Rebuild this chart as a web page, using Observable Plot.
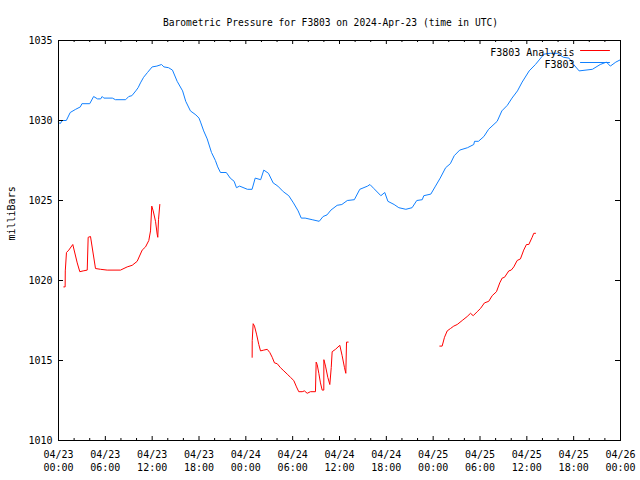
<!DOCTYPE html>
<html><head><meta charset="utf-8">
<script src="https://cdn.jsdelivr.net/npm/d3@7"></script>
<script src="https://cdn.jsdelivr.net/npm/@observablehq/plot@0.6"></script>
<style>body{margin:0;background:#fff}</style>
</head><body><div id="chart"></div>
<script>
const startUTC = Date.UTC(2024, 3, 23);
const titleText = "Barometric Pressure for F3803 on 2024-Apr-23 (time in UTC)";
const yLabel = "milliBars";
const seriesNames = ["F3803 Analysis", "F3803"];
const seriesColors = ["#ff0000", "#1080ff"];
const yTicks = [1010, 1015, 1020, 1025, 1030, 1035];
const xMajorHours = [0, 6, 12, 18, 24, 30, 36, 42, 48, 54, 60, 66, 72];
const xMinorHours = [2, 4, 8, 10, 14, 16, 20, 22, 26, 28, 32, 34, 38, 40, 44, 46, 50, 52, 56, 58, 62, 64, 68, 70];

// F3803 station (hours since 2024-04-23 00:00 UTC, millibars)
const stationHours = [0, 0.2, 0.5, 1.0, 1.5, 2.2, 2.8, 3.0, 4.0, 4.5, 5.0, 5.4, 5.6, 5.8, 6.9, 7.3, 8.6, 9.0, 9.4, 9.9,
  10.2, 10.5, 10.9, 11.4, 12.0, 12.6, 13.2, 13.5, 14.1, 14.6, 15.2, 15.9, 16.3, 16.9, 17.6, 18.0, 18.2, 18.6, 19.05, 19.6,
  20.1, 20.4, 20.75, 21.5, 22.0, 22.5, 22.8, 23.2, 24.2, 24.8, 25.2, 25.9, 26.3, 26.9, 27.5, 28.1, 28.8, 29.5, 30.1, 30.7,
  31.1, 31.6, 32.5, 33.4, 33.9, 34.4, 34.9, 35.7, 36.3, 37.0, 37.9, 38.6, 39.6, 39.9, 40.4, 41.3, 41.8, 42.2, 43.0, 43.6,
  44.5, 45.3, 45.9, 46.6, 46.8, 47.7, 48.3, 48.9, 49.6, 50.2, 50.7, 51.4, 52.4, 53.2, 53.3, 53.8, 54.5, 55.1, 56.2, 56.8,
  57.5, 58.1, 58.8, 59.4, 60.3, 61.1, 62.2, 63.0, 63.9, 64.7, 65.4, 66.0, 66.7, 68.4, 69.4, 70.2, 70.7, 71.4, 72.0];
const stationMb = [1029.9, 1029.8, 1030.0, 1030.0, 1030.5, 1030.7, 1030.85, 1031.05, 1031.05, 1031.5, 1031.35, 1031.35, 1031.5, 1031.4, 1031.4, 1031.3, 1031.3, 1031.5, 1031.55, 1031.85,
  1032.05, 1032.35, 1032.7, 1033.0, 1033.35, 1033.4, 1033.5, 1033.35, 1033.3, 1033.15, 1032.45, 1031.85, 1031.2, 1030.6, 1030.35, 1030.15, 1029.9, 1029.35, 1028.85, 1028.0,
  1027.5, 1027.1, 1026.75, 1026.75, 1026.4, 1026.2, 1025.8, 1025.9, 1025.7, 1025.7, 1026.4, 1026.3, 1026.9, 1026.7, 1026.1, 1025.9, 1025.55, 1025.3, 1024.85, 1024.35,
  1023.9, 1023.9, 1023.8, 1023.7, 1024.0, 1024.1, 1024.4, 1024.7, 1024.75, 1025.0, 1025.05, 1025.7, 1025.9, 1026.0, 1025.75, 1025.3, 1025.5, 1024.95, 1024.75, 1024.55,
  1024.45, 1024.55, 1025.0, 1025.05, 1025.3, 1025.4, 1025.9, 1026.4, 1027.05, 1027.3, 1027.8, 1028.15, 1028.3, 1028.5, 1028.7, 1028.7, 1029.0, 1029.45, 1029.95, 1030.6,
  1030.95, 1031.4, 1031.85, 1032.4, 1033.1, 1033.5, 1034.15, 1034.2, 1034.2, 1033.95, 1033.9, 1033.5, 1033.1, 1033.2, 1033.5, 1033.65, 1033.4, 1033.65, 1033.8];

// F3803 Analysis (null = gap in the record)
const analysisHours = [0.68, 0.85, 0.87, 1.02, 1.32, 1.83, 2.4, 2.73, 3.16, 3.68, 3.8, 4.1, 4.74, 5.38, 6.24, 7.94, 8.8, 9.44, 10.08, 10.72,
  11.15, 11.57, 11.79, 11.95, 12.13, 12.43, 12.64, 12.72, 12.81, 12.98,
  18.0,
  24.81, 24.82, 24.94, 25.11, 25.37, 25.66, 25.88, 26.3, 26.74, 27.07, 27.38, 27.67, 28.02, 28.44, 28.87, 29.3, 29.72, 30.14, 30.49, 30.78,
  31.22, 31.51, 31.86, 32.28, 32.92, 33.01, 33.14, 33.35, 33.56, 33.78, 33.99, 34.0, 34.21, 34.5, 34.76, 34.94, 35.06, 35.49, 36.04, 36.34,
  36.64, 36.81, 36.9, 37.11,
  43.0,
  48.85, 49.15, 49.45, 49.8, 50.22, 50.64, 51.08, 51.72, 52.36, 52.78, 53.13, 53.64, 54.06, 54.57, 55.12, 55.56, 56.11, 56.53, 56.84, 57.14,
  57.69, 58.0, 58.33, 58.76, 59.18, 59.6, 59.95, 60.25, 60.68, 60.89, 61.11];
const analysisMb = [1019.6, 1019.6, 1020.6, 1021.75, 1021.9, 1022.25, 1021.1, 1020.55, 1020.6, 1020.65, 1022.7, 1022.75, 1020.75, 1020.7, 1020.65, 1020.65, 1020.85, 1020.95, 1021.2, 1021.9,
  1022.1, 1022.5, 1023.1, 1024.65, 1024.35, 1023.7, 1022.9, 1022.7, 1023.8, 1024.75,
  null,
  1015.2, 1016.25, 1017.3, 1017.15, 1016.65, 1016.0, 1015.6, 1015.65, 1015.7, 1015.5, 1015.2, 1014.85, 1014.8, 1014.55, 1014.35, 1014.15, 1013.95, 1013.75, 1013.35, 1013.05,
  1013.05, 1013.1, 1012.95, 1013.05, 1013.05, 1014.9, 1014.75, 1014.2, 1013.6, 1013.15, 1013.15, 1015.05, 1014.65, 1013.95, 1013.5, 1014.55, 1015.55, 1015.7, 1015.95, 1015.3,
  1014.55, 1014.2, 1016.15, 1016.15,
  null,
  1015.9, 1015.9, 1016.45, 1016.85, 1017.0, 1017.15, 1017.25, 1017.5, 1017.75, 1017.95, 1017.8, 1018.05, 1018.25, 1018.6, 1018.7, 1019.05, 1019.3, 1019.85, 1020.15, 1020.2,
  1020.6, 1020.65, 1020.85, 1021.25, 1021.35, 1021.9, 1022.25, 1022.25, 1022.7, 1022.95, 1022.95];

const toDate = h => new Date(startUTC + h * 3600e3);
const station = stationHours.map((h, i) => ({t: toDate(h), mb: stationMb[i]}));
const analysis = analysisHours.map((h, i) => ({t: toDate(h), mb: analysisMb[i]}));
const majorDates = xMajorHours.map(toDate);
const minorDates = xMinorHours.map(toDate);
const fmt = d3.utcFormat("%m/%d\n%H:%M");
const lineShape = {draw(ctx, l) { ctx.moveTo(0, 0); ctx.lineTo(0, -l); }};

const W = 640, H = 480, ML = 58, MR = 20, MT = 40, MB = 40;
const PW = W - ML - MR, PH = H - MT - MB;

const chart = Plot.plot({
  width: W, height: H,
  marginLeft: ML, marginRight: MR, marginTop: MT, marginBottom: MB,
  style: {fontFamily: "DejaVu Sans Mono", fontSize: "10px", background: "#fff", color: "#000"},
  x: {type: "utc", domain: [toDate(0), toDate(72)]},
  y: {domain: [1010, 1035]},
  marks: [
    Plot.line(analysis, {x: "t", y: "mb", stroke: seriesColors[0], strokeWidth: 1}),
    Plot.line(station, {x: "t", y: "mb", stroke: seriesColors[1], strokeWidth: 1}),
    Plot.frame({stroke: "#000", strokeWidth: 1}),
    Plot.axisY({ticks: yTicks, tickSize: 0, tickPadding: 6, label: null, tickFormat: d => String(d)}),
    Plot.axisX({ticks: majorDates, tickSize: 0, tickPadding: 8, label: null, tickFormat: fmt, lineHeight: 1.3}),
    Plot.tickY(yTicks, {y: d => d, insetRight: PW - 5, stroke: "#000"}),
    Plot.tickY(yTicks, {y: d => d, insetLeft: PW - 5, stroke: "#000"}),
    Plot.tickX(majorDates, {x: d => d, insetTop: PH - 4, stroke: "#000"}),
    Plot.tickX(majorDates, {x: d => d, insetBottom: PH - 4, stroke: "#000"}),
    Plot.tickX(minorDates, {x: d => d, insetTop: PH - 2, stroke: "#000"}),
    Plot.tickX(minorDates, {x: d => d, insetBottom: PH - 2, stroke: "#000"}),
    Plot.text([titleText], {text: d => d, frameAnchor: "top", dx: -9, dy: -21, fontSize: 9.6, fill: "#000"}),
    Plot.text([yLabel], {text: d => d, frameAnchor: "left", dx: -47, rotate: -90, fill: "#000"}),
    Plot.text([seriesNames[0]], {text: d => d, frameAnchor: "top-right", textAnchor: "end", dx: -46, dy: 8, fill: "#000"}),
    Plot.text([seriesNames[1]], {text: d => d, frameAnchor: "top-right", textAnchor: "end", dx: -46, dy: 20, fill: "#000"}),
    Plot.vector([0], {frameAnchor: "top-right", dx: -40, dy: 10, length: 29, rotate: 90, anchor: "start", shape: lineShape, stroke: seriesColors[0], strokeWidth: 1}),
    Plot.vector([0], {frameAnchor: "top-right", dx: -40, dy: 22, length: 29, rotate: 90, anchor: "start", shape: lineShape, stroke: seriesColors[1], strokeWidth: 1})
  ]
});
document.getElementById("chart").appendChild(chart);
</script>
</body></html>
